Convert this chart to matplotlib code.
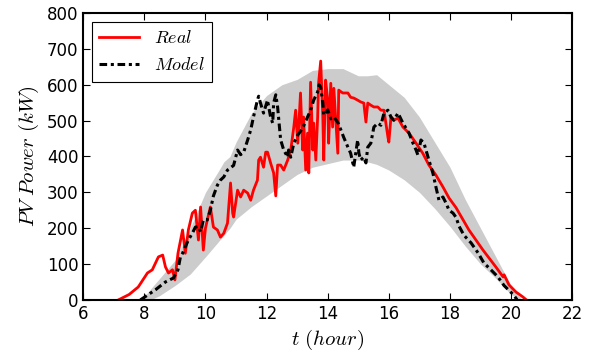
import matplotlib
matplotlib.use("Agg")
import matplotlib.pyplot as plt

plt.rcParams['mathtext.fontset'] = 'cm'
plt.rcParams['font.family'] = 'DejaVu Sans'

# measured output (Real)
real_t = [7.15, 7.5, 7.8, 8.1, 8.26, 8.46, 8.6, 8.69, 8.79, 8.92, 9.0, 9.1, 9.25, 9.34, 9.44,
          9.57, 9.67, 9.77, 9.84, 9.93, 10.0, 10.06, 10.16, 10.26, 10.39, 10.49, 10.6, 10.72,
          10.82, 10.89, 10.92, 11.05, 11.15, 11.25, 11.38, 11.48, 11.57, 11.7, 11.74, 11.8,
          11.9, 11.97, 12.03, 12.13, 12.23, 12.3, 12.36, 12.46, 12.56, 12.69, 12.79, 12.89,
          12.95, 13.02, 13.11, 13.18, 13.21, 13.28, 13.34, 13.38, 13.44, 13.51, 13.54, 13.61,
          13.67, 13.7, 13.77, 13.84, 13.87, 13.93, 14.0, 14.03, 14.1, 14.16, 14.2, 14.33,
          14.36, 14.49, 14.66, 14.75, 14.85, 14.98, 15.08, 15.18, 15.25, 15.31, 15.41, 15.51,
          15.64, 15.74, 15.84, 15.97, 16.0, 16.07, 16.16, 16.3, 16.46, 16.66, 16.89, 17.11,
          17.31, 17.54, 17.77, 17.97, 18.2, 18.43, 18.62, 19.08, 19.5, 19.74, 19.77, 19.93,
          20.16, 20.39, 20.5]
real_p = [0, 15, 36, 75, 84, 120, 125, 92, 75, 84, 56, 130, 195, 130, 195,
          242, 250, 167, 259, 139, 200, 223, 259, 203, 195, 175, 186, 214,
          326, 242, 231, 306, 287, 306, 298, 278, 306, 334, 390, 398,
          370, 412, 412, 382, 354, 290, 376, 376, 362, 390, 418, 482,
          529, 437, 577, 418, 510, 362, 465, 354, 607, 418, 493, 390,
          510, 604, 666, 510, 390, 613, 557, 437, 604, 482, 590, 409,
          585, 577, 577, 565, 563, 557, 552, 549, 496, 549, 543, 538,
          538, 529, 529, 454, 440, 510, 501, 507, 482, 465, 437, 409,
          376, 348, 315, 284, 257, 223, 195, 139, 92, 64, 70, 42,
          22, 8, 0]

# model output
model_t = [7.87, 8.36, 8.69, 8.95, 9.1, 9.18, 9.25, 9.34, 9.44, 9.57, 9.67, 9.77, 9.84, 9.93,
           10.06, 10.16, 10.26, 10.39, 10.49, 10.6, 10.72, 10.92, 11.05, 11.15, 11.25, 11.38,
           11.48, 11.57, 11.7, 11.74, 11.8, 11.9, 12.03, 12.13, 12.2, 12.23, 12.3, 12.36,
           12.39, 12.46, 12.56, 12.69, 12.72, 12.79, 12.89, 13.02, 13.11, 13.21, 13.34, 13.44,
           13.54, 13.67, 13.72, 13.77, 13.84, 13.87, 14.0, 14.1, 14.2, 14.33, 14.43, 14.52,
           14.66, 14.75, 14.82, 14.85, 14.98, 15.02, 15.08, 15.18, 15.25, 15.31, 15.41, 15.51,
           15.64, 15.74, 15.84, 15.97, 16.07, 16.16, 16.3, 16.46, 16.66, 16.79, 16.89, 16.95,
           17.05, 17.15, 17.31, 17.44, 17.54, 17.64, 17.77, 17.87, 17.97, 18.1, 18.2, 18.3,
           18.46, 18.69, 18.92, 19.11, 19.34, 19.57, 19.77, 20.07, 20.2]
model_p = [0, 28, 50, 61, 84, 120, 130, 148, 167, 186, 203, 205, 190, 223,
           223, 250, 290, 320, 334, 343, 362, 375, 418, 405, 412, 446,
           474, 510, 557, 568, 549, 521, 557, 510, 493, 549, 572, 538,
           510, 446, 418, 398, 418, 398, 437, 460, 470, 485, 510, 529,
           557, 580, 600, 593, 549, 515, 530, 505, 510, 495, 474, 454,
           426, 409, 382, 370, 446, 409, 390, 398, 382, 426, 437, 482,
           493, 487, 521, 529, 510, 501, 521, 493, 465, 437, 418, 404,
           446, 437, 390, 354, 315, 278, 287, 270, 250, 242, 230, 205,
           180, 159, 131, 103, 84, 64, 40, 15, 0]

# uncertainty band
band_t = [7.9, 8.2, 8.5, 9.0, 9.5, 10.0, 10.5, 10.6, 10.8, 11.0, 11.5, 12.0, 12.5, 13.0, 13.5,
          14.0, 14.5, 15.0, 15.3, 15.6, 16.0, 16.5, 17.0, 17.5, 18.0, 18.5, 19.0, 19.5,
          20.0, 20.35]
band_up = [0, 30, 60, 110, 200, 300, 370, 385, 400, 440, 520, 570, 600, 615, 640,
           645, 645, 625, 625, 628, 600, 565, 510, 440, 370, 280, 200, 120, 40, 0]
band_lo = [0, 0, 12, 40, 72, 120, 170, 180, 200, 225, 260, 290, 320, 350, 370,
           380, 390, 390, 385, 378, 362, 335, 300, 255, 205, 150, 100, 60, 15, 0]

fig = plt.figure(figsize=(6.12, 3.52), dpi=100)
ax = fig.add_axes([0.136, 0.148, 0.799, 0.815])

ax.fill_between(band_t, band_lo, band_up, color='0.8', lw=0)
ax.plot(real_t, real_p, color='r', lw=2, label='$Real$')
ax.plot(model_t, model_p, color='k', lw=2.2, dashes=[2.5, 1.2, 1, 1.2], label='$Model$')

ax.set_xlim(6, 22)
ax.set_ylim(0, 800)
ax.set_xticks(range(6, 23, 2))
ax.set_yticks(range(0, 801, 100))
ax.tick_params(direction='in', top=True, right=True, length=5, labelsize=12)
for s in ax.spines.values():
    s.set_linewidth(1.5)

ax.set_xlabel('$t\\ (hour)$', fontsize=15)
ax.set_ylabel('$PV\\ Power\\ (kW)$', fontsize=15)

leg = ax.legend(loc='upper left', fontsize=13, fancybox=False, edgecolor='k',
                framealpha=1, handlelength=2.2)
leg.get_frame().set_linewidth(0.8)

fig.savefig('out.png', dpi=100)
